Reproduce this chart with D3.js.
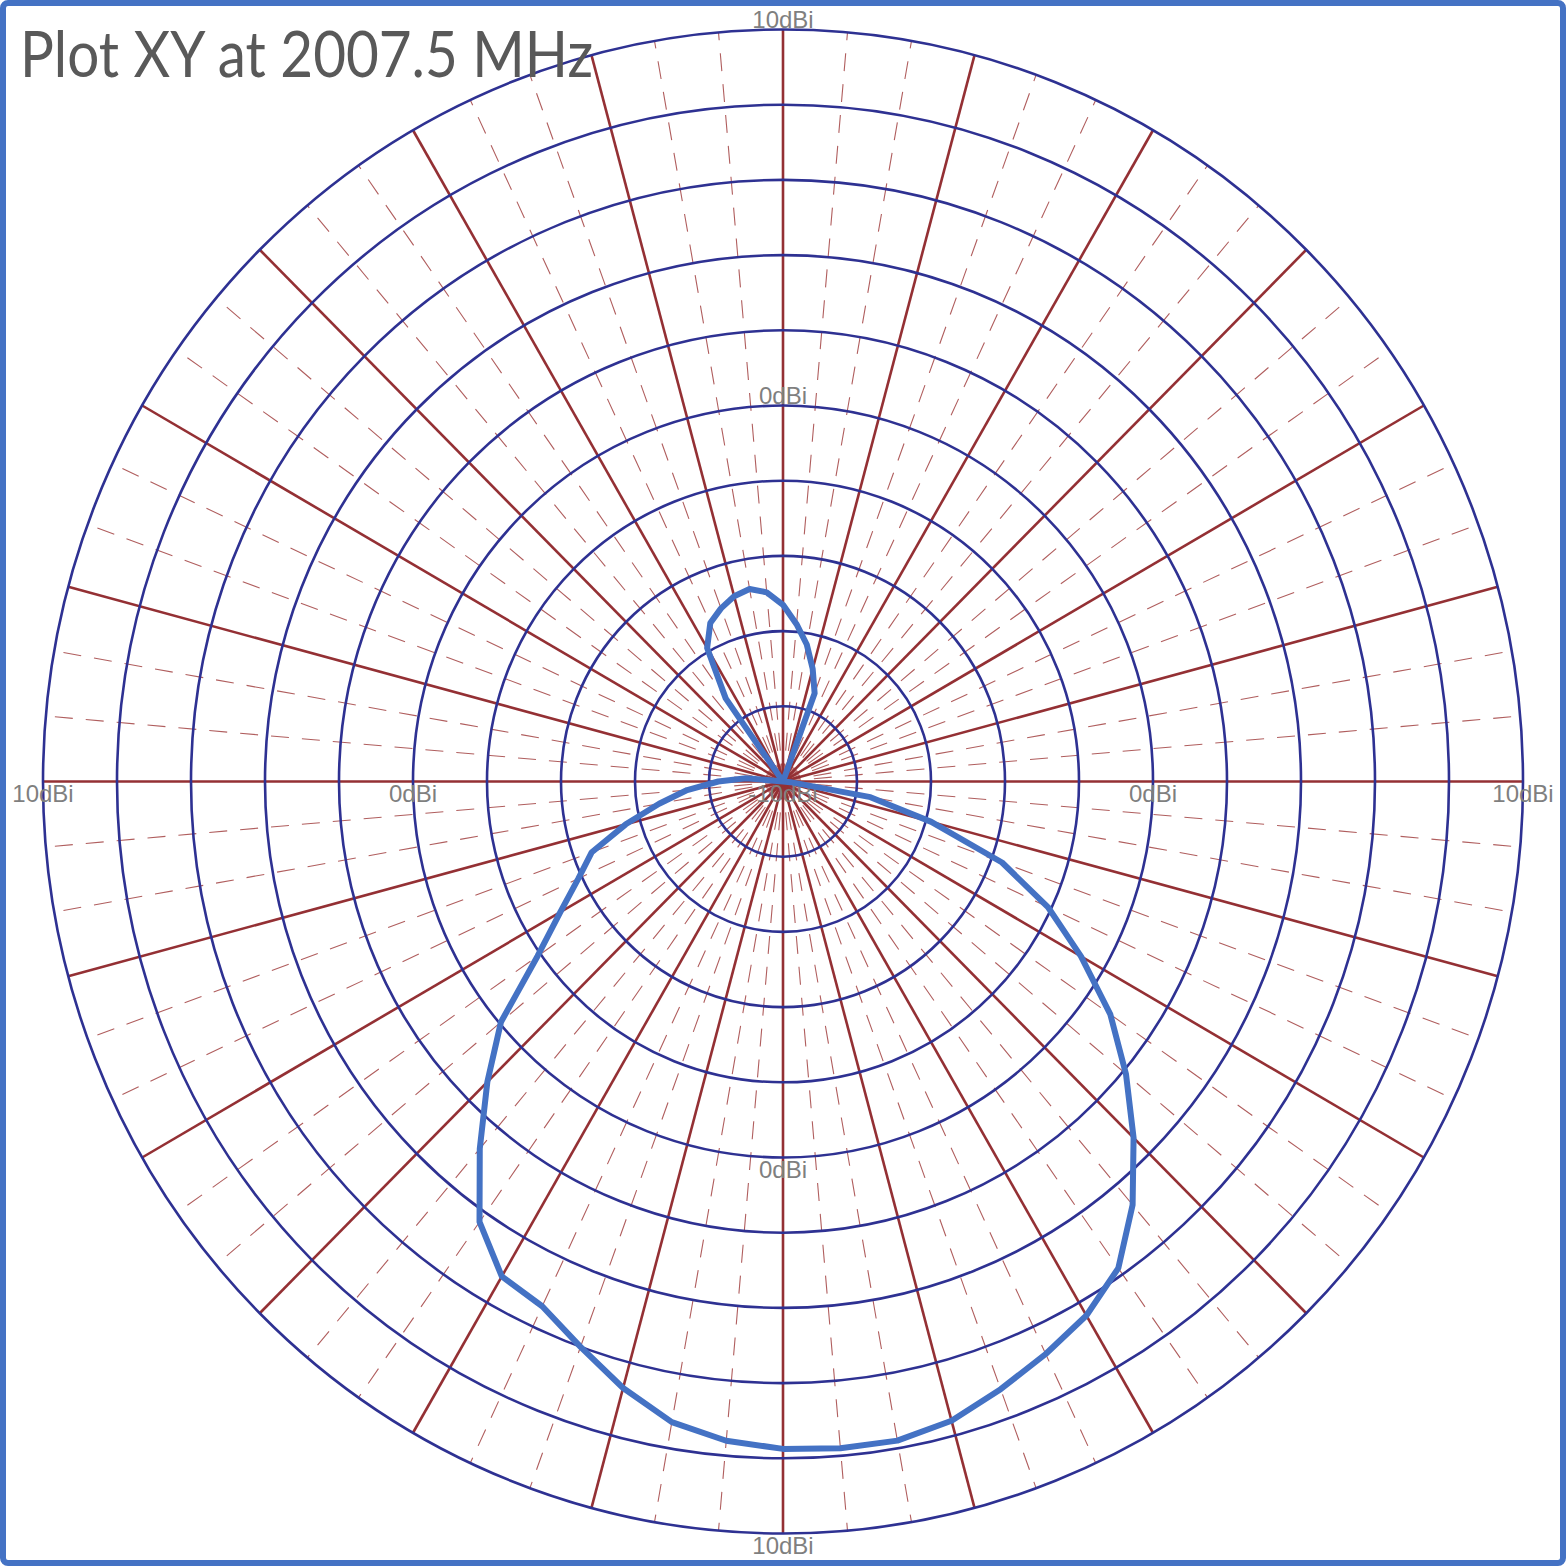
<!DOCTYPE html>
<html lang="en">
<head>
    <meta charset="UTF-8">
    <title>Plot XY at 2007.5 MHz</title>
    <style>
        html, body {
            margin: 0;
            padding: 0;
            background-color: #ffffff;
        }
        svg {
            display: block;
        }
    </style>
</head>
<body>
    <div id="chart"></div>
    <script src="https://d3js.org/d3.v7.min.js"></script>
    <script>
        // DATA (angle in degrees clockwise from top, gain in dBi)
        const angles = d3.range(0, 360, 5);
        const gains = [
            -5.3, -5.8, -6.3, -6.9, -7.5,
            -10, -10, -10, -10, -10, -10, -10, -10, -10, -10, -10, -10, -10, -10,
            -9.8, -7.6, -5.85, -3.7, -2.1, -0.7, 0.8, 2.1, 3.4, 4.7, 5.8,
            6.4, 6.8, 7.2, 7.6, 7.8, 7.8, 7.75, 7.6, 7.3, 6.7, 6.0,
            5.4, 5.2, 4.3, 2.75, 1.3, -0.05, -1.9, -3.05, -3.9, -4.5,
            -5.6, -6.6, -7.4, -8.25, -9.0,
            -10, -10, -10, -10, -10, -10, -10, -10, -10,
            -7.3, -5.9, -5.35, -5.1, -4.9, -4.8, -4.95
        ];
        const ringValues = [-8, -6, -4, -2, 0, 2, 4, 6, 8, 10];
        const tickLabels = [
            {value: -10, text: "-10dBi"},
            {value: 0, text: "0dBi"},
            {value: 10, text: "10dBi"}
        ];
        const title = "Plot XY at 2007.5 MHz";

        const size = 1566;
        const cx = 783, cy = 781.5;

        // radial scales (chart is a bit taller than wide)
        const rX = d3.scaleLinear().domain([-10, 10]).range([0, 740]).clamp(true);
        const rY = d3.scaleLinear().domain([-10, 10]).range([0, 752]).clamp(true);

        const rad = (deg) => deg * Math.PI / 180;
        const px = (a, g) => cx + rX(g) * Math.sin(rad(a));
        const py = (a, g) => cy - rY(g) * Math.cos(rad(a));

        const svg = d3.select("#chart")
            .append("svg")
            .attr("width", size)
            .attr("height", size);

        svg.append("rect")
            .attr("width", size)
            .attr("height", size)
            .attr("fill", "#ffffff");

        const grid = svg.append("g");

        // DASHED RADIALS EVERY 5 DEG
        grid.selectAll(".minor")
            .data(d3.range(0, 360, 5).filter(a => a % 15 !== 0))
            .enter()
            .append("line")
            .attr("x1", cx).attr("y1", cy)
            .attr("x2", a => px(a, 10))
            .attr("y2", a => py(a, 10))
            .attr("stroke", "#b05e5e")
            .attr("stroke-width", 1.1)
            .attr("stroke-dasharray", "18,13");

        // SOLID RADIALS EVERY 15 DEG
        grid.selectAll(".major")
            .data(d3.range(0, 360, 15))
            .enter()
            .append("line")
            .attr("x1", cx).attr("y1", cy)
            .attr("x2", a => px(a, 10))
            .attr("y2", a => py(a, 10))
            .attr("stroke", "#943034")
            .attr("stroke-width", 2.6);

        // RINGS
        grid.selectAll("ellipse")
            .data(ringValues)
            .enter()
            .append("ellipse")
            .attr("cx", cx).attr("cy", cy)
            .attr("rx", d => rX(d))
            .attr("ry", d => rY(d))
            .attr("fill", "none")
            .attr("stroke", "#2e3192")
            .attr("stroke-width", 2.6);

        // TICK LABELS
        const labels = svg.append("g")
            .attr("font-family", "'Liberation Sans', Arial, sans-serif")
            .attr("font-size", 24)
            .attr("fill", "#7f7f7f")
            .attr("text-anchor", "middle");

        tickLabels.forEach(t => {
            if (t.value === -10) {
                labels.append("text").attr("x", cx).attr("y", cy + 20).text(t.text);
                return;
            }
            labels.append("text").attr("x", cx).attr("y", cy - rY(t.value) - 2).text(t.text);
            labels.append("text").attr("x", cx).attr("y", cy + rY(t.value) + 20).text(t.text);
            labels.append("text").attr("x", cx - rX(t.value)).attr("y", cy + 20).text(t.text);
            labels.append("text").attr("x", cx + rX(t.value)).attr("y", cy + 20).text(t.text);
        });

        // PATTERN
        const pattern = angles.map((a, i) => ({a: a, g: gains[i]}));
        const line = d3.line()
            .x(d => px(d.a, d.g))
            .y(d => py(d.a, d.g))
            .curve(d3.curveLinearClosed);

        svg.append("path")
            .datum(pattern)
            .attr("d", line)
            .attr("fill", "none")
            .attr("stroke", "#4472c4")
            .attr("stroke-width", 6)
            .attr("stroke-linejoin", "round");

        // TITLE
        svg.append("text")
            .attr("x", 20)
            .attr("y", 77)
            .attr("font-family", "Lato, 'Open Sans', sans-serif")
            .attr("font-size", 63)
            .attr("fill", "#595959")
            .attr("textLength", 573)
            .attr("lengthAdjust", "spacingAndGlyphs")
            .text(title);

        // BORDER
        svg.append("rect")
            .attr("x", 3).attr("y", 3)
            .attr("width", size - 6).attr("height", size - 6)
            .attr("rx", 5)
            .attr("fill", "none")
            .attr("stroke", "#4472c4")
            .attr("stroke-width", 6);
    </script>
</body>
</html>
